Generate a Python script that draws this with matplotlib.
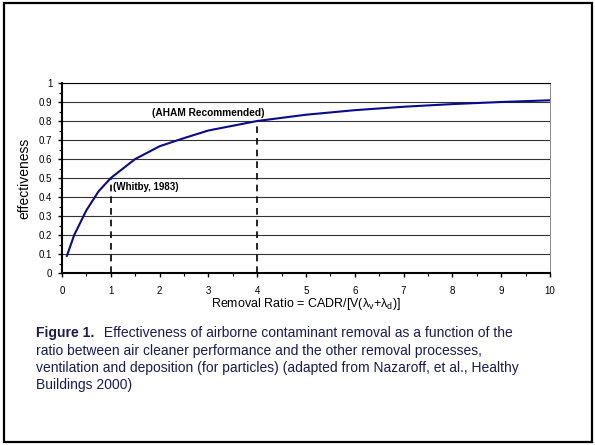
import matplotlib
matplotlib.use("Agg")
import matplotlib.pyplot as plt
from matplotlib.patches import Rectangle
from matplotlib.ticker import MultipleLocator

plt.rcParams['font.family'] = ['Liberation Sans', 'DejaVu Sans']
plt.rcParams['mathtext.default'] = 'regular'

removal_ratio = [0.1, 0.25, 0.5, 0.75, 1.0, 1.5, 2.0, 2.5, 3.0, 4.0, 5.0, 6.0, 7.0, 8.0, 9.0, 10.0]
effectiveness = [0.09, 0.20, 0.33, 0.43, 0.50, 0.60, 0.667, 0.71, 0.75, 0.80, 0.833, 0.857, 0.875, 0.889, 0.90, 0.909]
marker_x = [1, 4]
marker_y = [0.5, 0.8]
marker_labels = ["(Whitby, 1983)", "(AHAM Recommended)"]
x_ticks = list(range(11))
y_ticks = [i / 10 for i in range(11)]
y_ticklabels = ['0', '0.1', '0.2', '0.3', '0.4', '0.5', '0.6', '0.7', '0.8', '0.9', '1']

fig = plt.figure(figsize=(5.95, 4.45), dpi=100)
fig.patches.append(Rectangle((4/595, 3/445), 588/595, 439/445, transform=fig.transFigure,
                             fill=False, edgecolor='black', linewidth=1.6))

ax = fig.add_axes([62/595, 1-273/445, 488/595, 190/445])
ax.set_xlim(0, 10)
ax.set_ylim(0, 1)
ax.set_xticks(x_ticks)
ax.set_xticklabels([str(i) for i in x_ticks])
ax.set_yticks(y_ticks)
ax.set_yticklabels(y_ticklabels)
ax.xaxis.set_minor_locator(MultipleLocator(0.5))
ax.yaxis.set_minor_locator(MultipleLocator(0.05))
ax.tick_params(axis='both', which='major', labelsize=7, length=3, width=1, direction='out')
ax.tick_params(axis='x', which='major', pad=6)
ax.tick_params(axis='y', which='major', pad=4)
ax.tick_params(axis='both', which='minor', length=2, width=0.8, direction='out')
ax.grid(axis='y', which='major', color='#333333', linewidth=0.8)
ax.set_axisbelow(True)
for s in ['left', 'bottom']:
    ax.spines[s].set_linewidth(1.5)
ax.spines['top'].set_linewidth(0.8)
ax.spines['right'].set_linewidth(0.6)
ax.spines['right'].set_color('#777777')

ax.plot(removal_ratio, effectiveness, color='#0a0a8a', linewidth=1.5, zorder=3)
for mx, my in zip(marker_x, marker_y):
    ax.plot([mx, mx], [0, my], color='black', linestyle=(0, (4, 3)), linewidth=1.2, zorder=2)

ax.text(1.05, 0.455, marker_labels[0], fontsize=7, fontweight='bold', ha='left', va='center')
ax.text(4.15, 0.84, marker_labels[1], fontsize=7.3, fontweight='bold', ha='right', va='center')

ax.set_ylabel('effectiveness', fontsize=10, labelpad=5)
ax.set_xlabel(r'Removal Ratio = CADR/[V($\lambda_v$+$\lambda_d$)]', fontsize=9, labelpad=0)

cap_color = '#1b1b50'
fig.text(36/595, 1-332.7/445, 'Figure 1.', fontsize=10, fontweight='bold', color=cap_color, va='center', ha='left')
lines = ["ratio between air cleaner performance and the other removal processes,",
         "ventilation and deposition (for particles) (adapted from Nazaroff, et al., Healthy",
         "Buildings 2000)"]
fig.text(100/595, 1-332.7/445, ' Effectiveness of airborne contaminant removal as a function of the',
         fontsize=10, color=cap_color, va='center', ha='left')
for i, ln in enumerate(lines):
    fig.text(36/595, 1-(350.5+17.4*i)/445, ln, fontsize=10, color=cap_color, va='center', ha='left')

fig.savefig('out.png', dpi=100)
